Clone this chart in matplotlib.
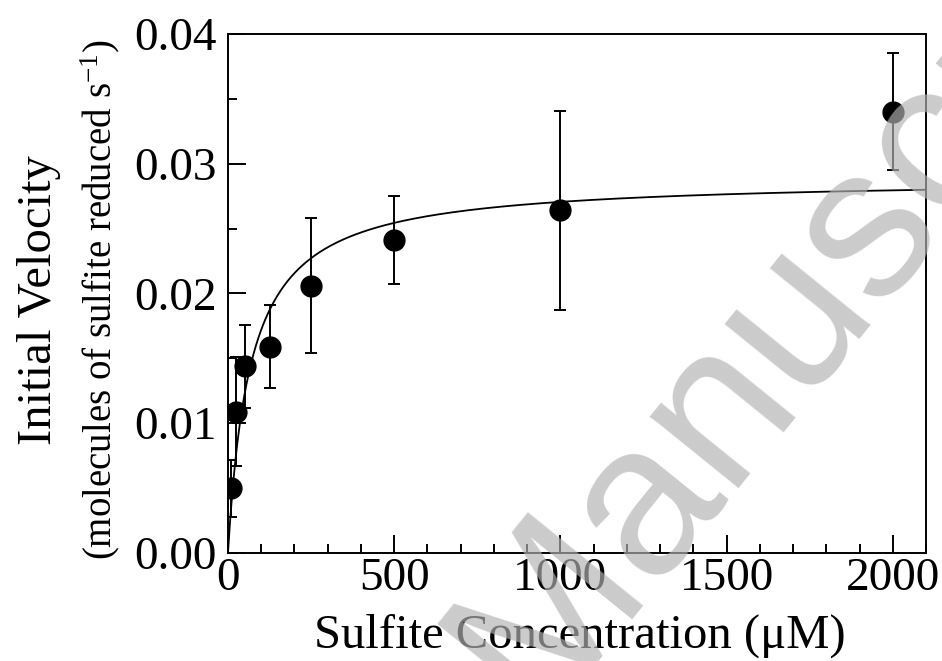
import numpy as np
import matplotlib
matplotlib.use("Agg")
import matplotlib.pyplot as plt
from matplotlib.ticker import MultipleLocator, FormatStrFormatter

plt.rcParams['font.family'] = ['Liberation Serif', 'DejaVu Serif']
plt.rcParams['mathtext.fontset'] = 'custom'
plt.rcParams['mathtext.rm'] = 'Liberation Serif'
plt.rcParams['mathtext.it'] = 'Liberation Serif:italic'

# measured points: sulfite (uM) vs initial velocity
sulfite = [10, 25, 50, 125, 250, 500, 1000, 2000]
velocity = [0.0050, 0.0109, 0.0144, 0.0159, 0.0206, 0.0241, 0.0264, 0.0340]
vel_err = [0.0022, 0.0042, 0.0032, 0.0032, 0.0052, 0.0034, 0.0077, 0.0045]

# Michaelis-Menten fit
vmax = 0.0289
km = 68.0

fig = plt.figure(figsize=(9.42, 6.61), dpi=100)
ax = fig.add_axes([0.242, 0.1634, 0.741, 0.7852])

s = np.linspace(0, 2100, 600)
ax.plot(s, vmax * s / (km + s), color='black', lw=1.3, zorder=3)
ax.errorbar(sulfite, velocity, yerr=vel_err, fmt='o', color='black',
            ms=15, elinewidth=1.4, capsize=4.3, capthick=1.4, zorder=2)

ax.set_xlim(0, 2100)
ax.set_ylim(0, 0.04)
ax.xaxis.set_major_locator(MultipleLocator(500))
ax.xaxis.set_minor_locator(MultipleLocator(100))
ax.yaxis.set_major_locator(MultipleLocator(0.01))
ax.yaxis.set_minor_locator(MultipleLocator(0.005))
ax.yaxis.set_major_formatter(FormatStrFormatter('%.2f'))
ax.tick_params(which='both', direction='in', top=False, right=False,
               width=1.4, labelsize=34)
ax.tick_params(axis='x', which='major', length=13, pad=3)
ax.tick_params(axis='y', which='major', length=13, pad=8)
ax.tick_params(which='minor', length=6.5)
for sp in ax.spines.values():
    sp.set_linewidth(1.4)

fig.text(0.615, 0.0197, 'Sulfite Concentration (μM)', fontsize=35,
         ha='center', va='baseline')
fig.text(0.041, 0.546, 'Initial Velocity', fontsize=35, rotation=90,
         ha='center', va='center')
fig.text(0.106, 0.546, '(molecules of sulfite reduced s$^{-1}$)', fontsize=28,
         rotation=90, ha='center', va='center')

# "Manuscript" watermark from the source page
fig.text(0.568, -0.086, 'Manuscript', fontsize=155, family='Liberation Sans',
         rotation=51, rotation_mode='anchor', ha='left', va='baseline',
         color='#b2b2b2', alpha=0.67, zorder=10)

fig.savefig('out.png', dpi=100)
